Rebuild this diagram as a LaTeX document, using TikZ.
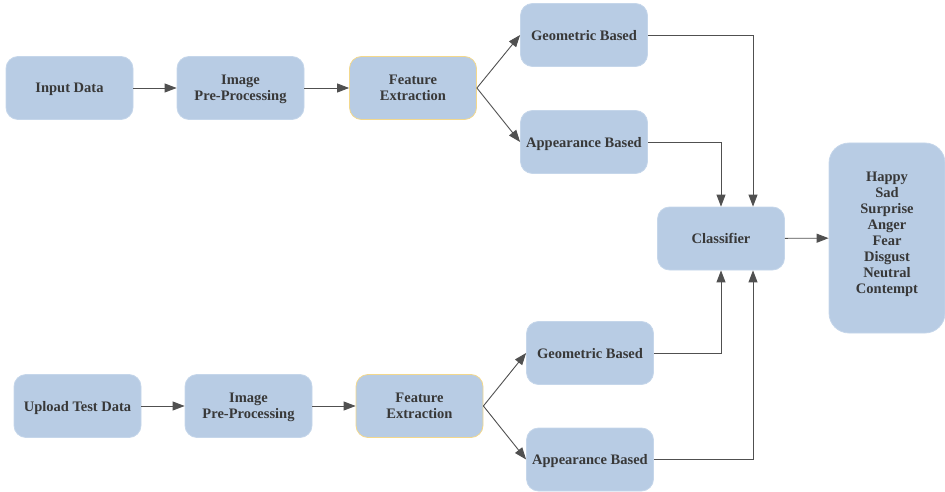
\documentclass[tikz,border=0pt]{standalone}
\usepackage{fontspec}
\setmainfont{Liberation Serif}
\usepackage{tikz}
\usetikzlibrary{arrows.meta,positioning}
\definecolor{boxblue}{RGB}{184,204,228}
\definecolor{edgeblue}{RGB}{197,214,234}
\definecolor{edgegold}{RGB}{243,216,140}
\definecolor{inkgrey}{RGB}{56,56,56}
\definecolor{wiregrey}{RGB}{80,80,80}
\tikzset{
  base/.style={font=\fontsize{14.5}{16}\selectfont\bfseries, align=center, inner sep=0pt, text=inkgrey},
  box/.style={base, rectangle, rounded corners=12pt, draw=edgeblue, fill=boxblue, line width=0.8pt, minimum width=127pt, minimum height=63pt, text depth=0pt},
  featbox/.style={box, draw=edgegold},
  outbox/.style={box, rounded corners=20pt, minimum width=116pt, minimum height=190pt, text depth=10pt},
  arr/.style={-{Triangle[length=12pt,width=9pt]}, line width=0.9pt, draw=wiregrey},
}
\begin{document}
\begin{tikzpicture}[x=1pt,y=-1pt]
  \useasboundingbox (0,0) rectangle (945,492);
  % training branch
  \node[box]     (in)    at (69.5,88)  {Input Data};
  \node[box]     (pre)   at (240.5,88) {Image\\Pre-Processing};
  \node[featbox] (feat)  at (413,88)   {Feature\\Extraction};
  \node[box]     (geo)   at (584,35)   {Geometric Based};
  \node[box]     (app)   at (584,142)  {Appearance Based};
  % classifier and output
  \node[box]     (cls)   at (721,238.5) {Classifier};
  \node[outbox]  (out)   at (887,238)  {Happy\\Sad\\Surprise\\Anger\\Fear\\Disgust\\Neutral\\Contempt};
  % test branch
  \node[box]     (up)    at (77.5,406) {Upload Test Data};
  \node[box]     (tpre)  at (248.5,406) {Image\\Pre-Processing};
  \node[featbox] (tfeat) at (419.5,406) {Feature\\Extraction};
  \node[box]     (tgeo)  at (590,353)  {Geometric Based};
  \node[box]     (tapp)  at (590,459.5) {Appearance Based};
  % connectors
  \draw[arr] (in) -- (pre);
  \draw[arr] (pre) -- (feat);
  \draw[arr] (feat.east) -- (geo.west);
  \draw[arr] (feat.east) -- (app.west);
  \draw[arr] (geo.east) -| ([xshift=32pt]cls.north);
  \draw[arr] (app.east) -| (cls.north);
  \draw[arr] (up) -- (tpre);
  \draw[arr] (tpre) -- (tfeat);
  \draw[arr] (tfeat.east) -- (tgeo.west);
  \draw[arr] (tfeat.east) -- (tapp.west);
  \draw[arr] (tgeo.east) -| (cls.south);
  \draw[arr] (tapp.east) -| ([xshift=32pt]cls.south);
  \draw[arr] (cls) -- (out);
\end{tikzpicture}
\end{document}
